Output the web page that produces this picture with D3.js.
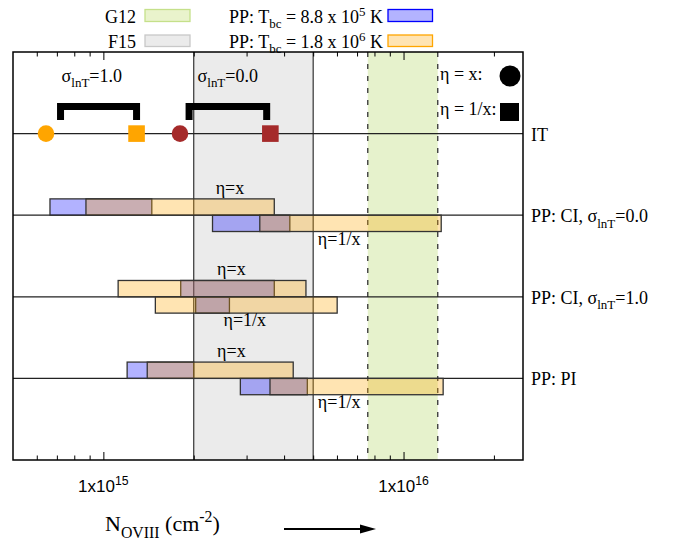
<!DOCTYPE html>
<html>
<head>
<meta charset="utf-8">
<script src="https://cdn.jsdelivr.net/npm/d3@7"></script>
<style>
  body { margin: 0; background: #fff; }
  text { font-family: "Liberation Serif", "Times New Roman", serif; fill: #000; }
</style>
</head>
<body>
<div id="chart"></div>
<script>
// ---- data ----
var rowNames = ["IT", "PP: CI, σlnT=0.0", "PP: CI, σlnT=1.0", "PP: PI"];
var rowPos = [4, 3, 2, 1];

// PP rows (CI 0.0, CI 1.0, PI): ranges of N_OVIII
var coolEtaX   = [[6.64e14, 1.45e15], [1.81e15, 3.71e15], [1.20e15, 2.00e15]];
var coolEtaInv = [[2.31e15, 4.18e15], [2.03e15, 2.63e15], [2.86e15, 4.78e15]];
var hotEtaX    = [[8.75e14, 3.71e15], [1.12e15, 4.73e15], [1.40e15, 4.29e15]];
var hotEtaInv  = [[3.32e15, 1.335e16], [1.49e15, 6.01e15], [3.59e15, 1.355e16]];

// IT row markers: [sigma=1.0 (orange), sigma=0.0 (brown)]
var itCircles = [6.44e14, 1.80e15];
var itSquares = [1.29e15, 3.60e15];
var itColors = ["#ffa500", "#a52a2a"];

// brackets over the IT markers
var bracketLo = [7.2e14, 1.93e15];
var bracketHi = [1.29e15, 3.50e15];
var bracketSigma = ["1.0", "0.0"];
var bracketLabelN = [7.26e14, 2.06e15];

// observed ranges
var bandF15 = [2.0e15, 5.0e15];
var bandG12 = [7.6e15, 1.3e16];

// eta labels
var etaLabelRow = [3, 3, 2, 2, 1, 1];
var etaLabelText = ["η=x", "η=1/x", "η=x", "η=1/x", "η=x", "η=1/x"];
var etaLabelN = [2.64e15, 6.1e15, 2.67e15, 2.96e15, 2.67e15, 6.1e15];

var majorTicks = [1e15, 1e16];
var minorTicks = [6e14, 7e14, 8e14, 9e14, 2e15, 3e15, 4e15, 5e15, 6e15, 7e15, 8e15, 9e15, 2e16];
var tickExp = ["15", "16"];

// ---- layout ----
var width = 678, height = 542;
var plotL = 13, plotR = 523, plotT = 52, plotB = 460;
var barH = 0.2;

var svg = d3.select("#chart").append("svg")
    .attr("width", width)
    .attr("height", height);

var x = d3.scaleLog().domain([5e14, 2.5e16]).range([plotL, plotR]);
var y = d3.scaleLinear().domain([0, 5]).range([plotB, plotT]);

// rich text helper (sub / superscripts)
function rich(g, px, py, parts, size, anchor) {
    var t = g.append("text")
        .attr("x", px).attr("y", py)
        .attr("text-anchor", anchor || "start")
        .style("font-size", size + "px");
    var shift = 0;
    parts.forEach(function (p) {
        var target = p[1] === "sub" ? size * 0.3 : p[1] === "sup" ? -size * 0.4 : 0;
        t.append("tspan")
            .attr("dy", target - shift)
            .style("font-size", (p[1] ? size * 0.72 : size) + "px")
            .text(p[0]);
        shift = target;
    });
    return t;
}

// bands
svg.append("rect")
    .attr("x", x(bandF15[0])).attr("y", plotT)
    .attr("width", x(bandF15[1]) - x(bandF15[0])).attr("height", plotB - plotT)
    .style("fill", "#ebebeb");
svg.append("rect")
    .attr("x", x(bandG12[0])).attr("y", plotT)
    .attr("width", x(bandG12[1]) - x(bandG12[0])).attr("height", plotB - plotT)
    .style("fill", "yellowgreen").style("fill-opacity", 0.25);

bandF15.forEach(function (v) {
    svg.append("line")
        .attr("x1", x(v)).attr("x2", x(v)).attr("y1", plotT).attr("y2", plotB)
        .style("stroke", "#333").style("stroke-width", 1.2);
});
bandG12.forEach(function (v) {
    svg.append("line")
        .attr("x1", x(v)).attr("x2", x(v)).attr("y1", plotT).attr("y2", plotB)
        .style("stroke", "#333").style("stroke-width", 1.3)
        .style("stroke-dasharray", "5,7");
});

// row lines
rowPos.forEach(function (r) {
    svg.append("line")
        .attr("x1", plotL).attr("x2", plotR).attr("y1", y(r)).attr("y2", y(r))
        .style("stroke", "#222").style("stroke-width", 1.2);
});

// bars: blue first, orange on top
function drawBars(ranges, above, color) {
    svg.append("g").selectAll("rect")
        .data(ranges)
        .join("rect")
        .attr("x", function (d) { return x(d[0]); })
        .attr("width", function (d) { return x(d[1]) - x(d[0]); })
        .attr("y", function (d, i) { return above ? y(rowPos[i + 1] + barH) : y(rowPos[i + 1]); })
        .attr("height", y(0) - y(barH))
        .style("fill", color).style("fill-opacity", 0.3)
        .style("stroke", "#333").style("stroke-width", 1.3);
}
drawBars(coolEtaX, true, "#0000ff");
drawBars(coolEtaInv, false, "#0000ff");
drawBars(hotEtaX, true, "#ffa500");
drawBars(hotEtaInv, false, "#ffa500");

// eta labels
etaLabelText.forEach(function (t, i) {
    var above = t === "η=x";
    var ty = above ? y(etaLabelRow[i] + barH) - 5 : y(etaLabelRow[i] - barH) + 13;
    svg.append("text")
        .attr("x", x(etaLabelN[i])).attr("y", ty)
        .attr("text-anchor", "middle")
        .style("font-size", "18px")
        .text(t);
});

// IT markers
var yIT = y(rowPos[0]);
svg.append("g").selectAll("circle")
    .data(itCircles)
    .join("circle")
    .attr("cx", function (d) { return x(d); })
    .attr("cy", yIT)
    .attr("r", 8.3)
    .style("fill", function (d, i) { return itColors[i]; });
svg.append("g").selectAll("rect")
    .data(itSquares)
    .join("rect")
    .attr("x", function (d) { return x(d) - 8.3; })
    .attr("y", yIT - 8.3)
    .attr("width", 16.6).attr("height", 16.6)
    .style("fill", function (d, i) { return itColors[i]; });

// brackets + sigma labels
bracketLo.forEach(function (lo, i) {
    svg.append("path")
        .attr("d", "M" + x(lo) + "," + (yIT - 13.5) + "V" + (yIT - 27) +
                   "H" + x(bracketHi[i]) + "V" + (yIT - 13.5))
        .style("fill", "none").style("stroke", "#000")
        .style("stroke-width", 7).style("stroke-linejoin", "miter");
    rich(svg, x(bracketLabelN[i]), yIT - 52,
        [["σ"], ["lnT", "sub"], ["=" + bracketSigma[i]]], 18);
});

// eta marker legend
svg.append("text").attr("x", 440).attr("y", 80).style("font-size", "18px").text("η = x:");
svg.append("circle").attr("cx", 510).attr("cy", 76).attr("r", 10.5).style("fill", "#000");
svg.append("text").attr("x", 440).attr("y", 115).style("font-size", "18px").text("η = 1/x:");
svg.append("rect").attr("x", 500).attr("y", 103).attr("width", 19).attr("height", 18).style("fill", "#000");

// axes (ticks inward, top mirrored)
function tickAxis(axisFn, ticks, len, ypos) {
    var g = svg.append("g")
        .attr("transform", "translate(0," + ypos + ")")
        .call(axisFn(x).tickValues(ticks).tickSize(len).tickFormat(""));
    g.select(".domain").remove();
    g.selectAll("line").style("stroke", "#000");
    return g;
}
tickAxis(d3.axisBottom, majorTicks, -8, plotB);
tickAxis(d3.axisBottom, minorTicks, -4.5, plotB);
tickAxis(d3.axisTop, majorTicks, -8, plotT);
tickAxis(d3.axisTop, minorTicks, -4.5, plotT);

// frame
svg.append("rect")
    .attr("x", plotL).attr("y", plotT)
    .attr("width", plotR - plotL).attr("height", plotB - plotT)
    .style("fill", "none").style("stroke", "#000").style("stroke-width", 1.5);

// tick labels
majorTicks.forEach(function (t, i) {
    var lbl = rich(svg, x(t), 492, [["1x10"], [tickExp[i], "sup"]], 17, "middle");
    lbl.style("font-family", "'Liberation Sans', Arial, sans-serif");
});

// row names on the right
rowNames.forEach(function (n, i) {
    var parts = n.indexOf("σlnT") >= 0
        ? [[n.split("σlnT")[0] + "σ"], ["lnT", "sub"], [n.split("σlnT")[1]]]
        : [[n]];
    rich(svg, 531, y(rowPos[i]) + 7, parts, 18);
});

// x title + arrow
rich(svg, 105, 531, [["N"], ["OVIII", "sub"], [" (cm"], ["-2", "sup"], [")"]], 22);
svg.append("line")
    .attr("x1", 284).attr("x2", 362).attr("y1", 529).attr("y2", 529)
    .style("stroke", "#000").style("stroke-width", 2);
svg.append("path")
    .attr("d", "M360,524.5L376,529L360,533.5Z")
    .style("fill", "#000");

// top legend
var legend = svg.append("g");
legend.append("text").attr("x", 136).attr("y", 23).attr("text-anchor", "end")
    .style("font-size", "18px").text("G12");
legend.append("rect").attr("x", 145).attr("y", 9.5).attr("width", 45).attr("height", 12)
    .style("fill", "#e9f3cc").style("stroke", "#c5e08a").style("stroke-width", 1.3);
legend.append("text").attr("x", 136).attr("y", 48).attr("text-anchor", "end")
    .style("font-size", "18px").text("F15");
legend.append("rect").attr("x", 145).attr("y", 35).attr("width", 45).attr("height", 11.5)
    .style("fill", "#ebebeb").style("stroke", "#c8c8c8").style("stroke-width", 1.3);

rich(legend, 229, 23, [["PP: T"], ["bc", "sub"], [" = 8.8 x 10"], ["5", "sup"], [" K"]], 18);
legend.append("rect").attr("x", 388).attr("y", 9.5).attr("width", 44.5).attr("height", 12)
    .style("fill", "#b3b3ff").style("stroke", "#0000ff").style("stroke-width", 1.3);
rich(legend, 229, 48, [["PP: T"], ["bc", "sub"], [" = 1.8 x 10"], ["6", "sup"], [" K"]], 18);
legend.append("rect").attr("x", 388).attr("y", 35).attr("width", 44.5).attr("height", 11.5)
    .style("fill", "#ffe4b3").style("stroke", "#ffa500").style("stroke-width", 1.3);
</script>
</body>
</html>
